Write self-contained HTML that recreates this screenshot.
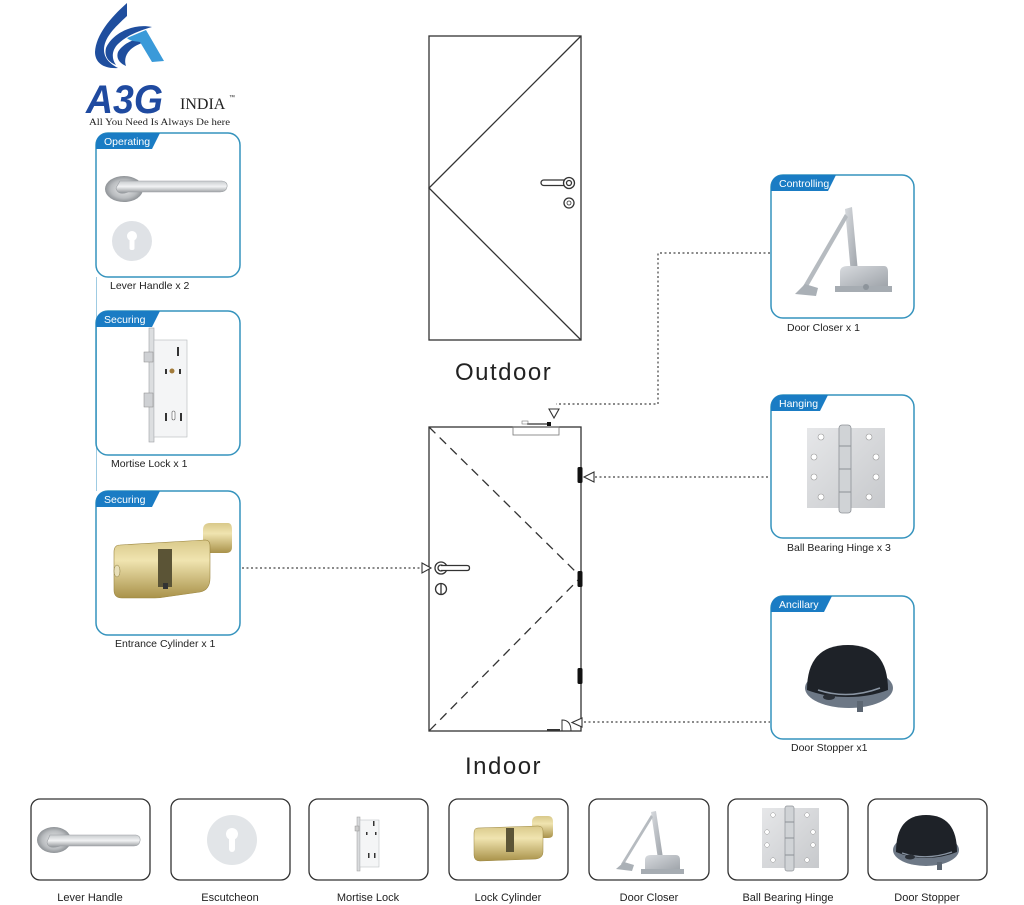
<!DOCTYPE html>
<html><head><meta charset="utf-8"><style>
html,body{margin:0;padding:0;background:#fff;}
svg{display:block;}
text{font-family:"Liberation Sans",sans-serif;}
</style></head><body>
<svg width="1024" height="905" viewBox="0 0 1024 905" xmlns="http://www.w3.org/2000/svg">
<defs>
<linearGradient id="steel" x1="0" y1="0" x2="0" y2="1">
<stop offset="0" stop-color="#c8cbce"/><stop offset="0.45" stop-color="#f2f3f4"/><stop offset="1" stop-color="#8e9296"/>
</linearGradient>
<radialGradient id="rose" cx="0.5" cy="0.5" r="0.5">
<stop offset="0" stop-color="#e8e9ea"/><stop offset="0.7" stop-color="#b9bcbf"/><stop offset="1" stop-color="#8f9397"/>
</radialGradient>
<linearGradient id="gold" x1="0" y1="0" x2="0" y2="1">
<stop offset="0" stop-color="#d9c98a"/><stop offset="0.35" stop-color="#f0e4b0"/><stop offset="1" stop-color="#a9924a"/>
</linearGradient>
<linearGradient id="plate" x1="0" y1="0" x2="1" y2="1">
<stop offset="0" stop-color="#e6e7e9"/><stop offset="1" stop-color="#c7c9cc"/>
</linearGradient>
<linearGradient id="alu" x1="0" y1="0" x2="1" y2="1">
<stop offset="0" stop-color="#d7dade"/><stop offset="1" stop-color="#9da2a8"/>
</linearGradient>
</defs>

<!-- LOGO -->
<g>
<path d="M127,3 C110,18 96,35 95,52 C95,63 104,69 118,68 C110,64 104,58 104,50 C104,38 114,28 127,16 Z" fill="#1f4e9e"/>
<path d="M152,27 C132,23 112,34 106,48 C104,56 108,62 116,65 C111,58 112,50 118,44 C126,36 138,31 152,27 Z" fill="#1f4e9e"/>
<path d="M150,38 C138,37 124,42 118,52 C116,58 119,63 126,66 C123,57 128,48 142,43 Z" fill="#1f4e9e"/>
<path d="M127,38 L146,30 L164,61 L152,62 L140,42 C134,41 130,41 127,38 Z" fill="#3a9ad9"/>
<text x="86" y="113" font-size="40" font-weight="bold" font-style="italic" fill="#1f4aa0" textLength="77" lengthAdjust="spacingAndGlyphs">A3G</text>
<text x="180" y="109" font-size="16" fill="#222" style="font-family:'Liberation Serif',serif">INDIA</text>
<text x="229" y="99" font-size="6" fill="#222">™</text>
<text x="89" y="125" font-size="9.5" fill="#222" style="font-family:'Liberation Serif',serif" textLength="141" lengthAdjust="spacingAndGlyphs">All You Need Is Always De here</text>
</g>

<!-- left connector line between cards -->
<line x1="96.5" y1="277" x2="96.5" y2="491" stroke="#9fcbe2" stroke-width="1"/>

<!-- CARD TEMPLATE: left cards -->
<g fill="none" stroke="#3593bd" stroke-width="1.5">
<rect x="96" y="133" width="144" height="144" rx="12"/>
<rect x="96" y="311" width="144" height="144" rx="12"/>
<rect x="96" y="491" width="144" height="144" rx="12"/>
<rect x="771" y="175" width="143" height="143" rx="12"/>
<rect x="771" y="395" width="143" height="143" rx="12"/>
<rect x="771" y="596" width="143" height="143" rx="12"/>
</g>
<!-- tabs -->
<g fill="#1a7cc4">
<path d="M96,149 L96,145 Q96,133 108,133 L160,133 Q156,141 152,149 Z"/>
<path d="M96,327 L96,323 Q96,311 108,311 L160,311 Q156,319 152,327 Z"/>
<path d="M96,507 L96,503 Q96,491 108,491 L160,491 Q156,499 152,507 Z"/>
<path d="M771,191 L771,187 Q771,175 783,175 L836,175 Q832,183 828,191 Z"/>
<path d="M771,411 L771,407 Q771,395 783,395 L828,395 Q824,403 820,411 Z"/>
<path d="M771,612 L771,608 Q771,596 783,596 L832,596 Q828,604 824,612 Z"/>
</g>
<g fill="#fff" font-size="10.5">
<text x="104" y="145">Operating</text>
<text x="104" y="323">Securing</text>
<text x="104" y="503">Securing</text>
<text x="779" y="187">Controlling</text>
<text x="779" y="407">Hanging</text>
<text x="779" y="608">Ancillary</text>
</g>
<g fill="#222" font-size="10.5">
<text x="110" y="289">Lever Handle x 2</text>
<text x="111" y="467">Mortise Lock x 1</text>
<text x="115" y="647">Entrance Cylinder x 1</text>
<text x="787" y="331">Door Closer x 1</text>
<text x="787" y="551">Ball Bearing Hinge x 3</text>
<text x="791" y="751">Door Stopper x1</text>
</g>

<!-- Card1: lever handle -->
<ellipse cx="124" cy="189" rx="19" ry="13" fill="url(#rose)"/>
<path d="M120,181 L222,181 Q228,182 227,187 Q226,192 220,192 L128,192 Q118,196 116,188 Z" fill="url(#steel)" stroke="#9a9ea2" stroke-width="0.6"/>
<circle cx="132" cy="241" r="20" fill="#dfe2e6"/>
<circle cx="132" cy="236" r="5" fill="#fff"/>
<rect x="129.5" y="236" width="5" height="14" rx="2" fill="#fff"/>

<!-- Card2: mortise lock -->
<rect x="149" y="328" width="5" height="114" fill="#dcdee0" stroke="#9da1a5" stroke-width="0.6"/>
<rect x="154" y="340" width="33" height="97" fill="#f4f5f6" stroke="#b5b8bb" stroke-width="0.6"/>
<rect x="144" y="352" width="9" height="10" fill="#cfd1d4" stroke="#888" stroke-width="0.5"/>
<rect x="144" y="393" width="9" height="14" fill="#cfd1d4" stroke="#888" stroke-width="0.5"/>
<rect x="177" y="347" width="2" height="9" fill="#333"/>
<circle cx="172" cy="371" r="2.5" fill="#a27b3a"/>
<rect x="165" y="369" width="2" height="5" fill="#333"/><rect x="179" y="369" width="2" height="5" fill="#333"/>
<rect x="172" y="411" width="3" height="9" rx="1.5" fill="#fff" stroke="#555" stroke-width="0.6"/>
<rect x="165" y="413" width="2" height="8" fill="#333"/><rect x="180" y="413" width="2" height="8" fill="#333"/>

<!-- Card3: cylinder -->
<path d="M203,530 Q203,523 210,523 L228,523 Q232,523 232,530 L232,547 Q232,553 226,553 L210,553 Q203,553 203,547 Z" fill="url(#gold)"/>
<path d="M120,545 L205,540 Q210,540 210,546 L210,578 Q210,590 200,592 L165,597 Q160,598 155,598 L122,598 Q114,598 114,590 L114,552 Q114,545 120,545 Z" fill="url(#gold)" stroke="#9b8640" stroke-width="0.6"/>
<rect x="158" y="549" width="14" height="38" fill="#5b5436"/>
<rect x="163" y="583" width="5" height="6" fill="#333"/>
<ellipse cx="117" cy="571" rx="3" ry="6" fill="#e8dfb8" stroke="#8a7a3e" stroke-width="0.5"/>

<!-- Door closer card -->
<path d="M845,209 L852,207 L858,272 L851,274 Z" fill="url(#alu)"/>
<path d="M845,214 L848,217 L806,290 L802,288 Z" fill="#b6bbc0"/>
<path d="M795,294 L805,284 L818,288 L816,296 Z" fill="#aab0b6"/>
<path d="M840,272 Q840,266 848,266 L884,266 Q888,266 888,272 L888,288 L840,288 Z" fill="url(#alu)"/>
<rect x="835" y="286" width="57" height="6" fill="#a6acb2"/>
<circle cx="866" cy="287" r="3" fill="#8d949b"/>

<!-- Hinge card -->
<rect x="807" y="428" width="78" height="80" fill="url(#plate)"/>
<rect x="839" y="425" width="12" height="88" rx="3" fill="#d0d3d6" stroke="#8d9196" stroke-width="0.8"/>
<line x1="839" y1="446" x2="851" y2="446" stroke="#8d9196"/>
<line x1="839" y1="469" x2="851" y2="469" stroke="#8d9196"/>
<line x1="839" y1="492" x2="851" y2="492" stroke="#8d9196"/>
<g fill="#fff" stroke="#999" stroke-width="0.6">
<circle cx="821" cy="437" r="3"/><circle cx="814" cy="457" r="3"/><circle cx="814" cy="477" r="3"/><circle cx="821" cy="497" r="3"/>
<circle cx="869" cy="437" r="3"/><circle cx="876" cy="457" r="3"/><circle cx="876" cy="477" r="3"/><circle cx="869" cy="497" r="3"/>
</g>

<!-- Stopper card -->
<ellipse cx="849" cy="688" rx="44" ry="20" fill="#6d7886"/>
<path d="M807,690 Q807,645 848,645 Q888,645 888,690 Q870,697 848,697 Q825,697 807,690 Z" fill="#1e2228"/>
<path d="M818,690 Q848,700 880,688" stroke="#8a95a3" stroke-width="1.5" fill="none"/>
<ellipse cx="829" cy="697" rx="6" ry="3" fill="#2a2f36"/>
<rect x="857" y="701" width="6" height="11" fill="#5c6672"/>

<!-- OUTDOOR DOOR -->
<g stroke="#333" stroke-width="1.3" fill="none">
<rect x="429" y="36" width="152" height="304"/>
<polyline points="581,36 429,188 581,340"/>
<rect x="541" y="180" width="30" height="5.5" rx="2.75" fill="#fff"/>
<circle cx="569" cy="183" r="5.5" fill="#fff"/>
<circle cx="569" cy="183" r="2.5"/>
<circle cx="569" cy="203" r="5"/>
<circle cx="569" cy="203" r="2" stroke-width="0.8"/>
</g>
<text x="455" y="380" font-size="24" fill="#222" letter-spacing="1.5">Outdoor</text>

<!-- INDOOR DOOR -->
<g stroke="#333" stroke-width="1.3" fill="none">
<rect x="429" y="427" width="152" height="304"/>
<polyline points="429,427 581,577 429,731" stroke-dasharray="9,6"/>
<rect x="513" y="427" width="46" height="8" stroke-width="0.8" stroke="#777"/>
<line x1="527" y1="424" x2="550" y2="424" stroke-width="1.2"/>
<rect x="522" y="421" width="6" height="3" stroke-width="0.6" stroke="#777"/>
<circle cx="441" cy="568" r="6"/>
<circle cx="441" cy="568" r="3"/>
<path d="M441,565.5 L467,565.5 Q469.5,565.5 469.5,568 Q469.5,570.5 467,570.5 L441,570.5" fill="#fff"/>
<circle cx="441" cy="589" r="5.5"/>
<line x1="441" y1="583.5" x2="441" y2="594.5"/>
<path d="M551,731 L562,731 L562,720 Q571,720 571,731" stroke-width="1"/>
<line x1="547" y1="730" x2="560" y2="730" stroke-width="2"/>
</g>
<g fill="#111">
<rect x="577.5" y="467" width="5" height="16" rx="1.5"/>
<rect x="577.5" y="571" width="5" height="16" rx="1.5"/>
<rect x="577.5" y="668" width="5" height="16" rx="1.5"/>
<rect x="547" y="422" width="4" height="4"/>
</g>
<text x="465" y="774" font-size="24" fill="#222" letter-spacing="1.5">Indoor</text>

<!-- CONNECTORS -->
<g stroke="#444" stroke-width="1.2" fill="none" stroke-dasharray="2,2.5">
<line x1="242" y1="568" x2="421" y2="568"/>
<polyline points="770,253 658,253 658,404 556,404"/>
<line x1="595" y1="477" x2="770" y2="477"/>
<line x1="584" y1="722" x2="770" y2="722"/>
</g>
<g stroke="#333" stroke-width="1.1" fill="#fff">
<polygon points="422,563 431,568 422,573"/>
<polygon points="549,409 559,409 554,418"/>
<polygon points="594,472 584,477 594,482"/>
<polygon points="582,718 572,722.5 582,727"/>
</g>

<!-- BOTTOM ROW -->
<g fill="none" stroke="#333" stroke-width="1.3">
<rect x="31" y="799" width="119" height="81" rx="9"/>
<rect x="171" y="799" width="119" height="81" rx="9"/>
<rect x="309" y="799" width="119" height="81" rx="9"/>
<rect x="449" y="799" width="119" height="81" rx="9"/>
<rect x="589" y="799" width="120" height="81" rx="9"/>
<rect x="728" y="799" width="120" height="81" rx="9"/>
<rect x="868" y="799" width="119" height="81" rx="9"/>
</g>
<!-- b1 lever -->
<ellipse cx="54" cy="840" rx="17" ry="13" fill="url(#rose)"/>
<path d="M50,835 L136,835 Q141,836 140,841 Q139,846 134,846 L60,846 Q48,850 47,842 Z" fill="url(#steel)" stroke="#9a9ea2" stroke-width="0.6"/>
<!-- b2 escutcheon -->
<circle cx="232" cy="840" r="25" fill="#e2e5e8"/>
<circle cx="232" cy="834" r="6" fill="#fff"/>
<rect x="229" y="834" width="6" height="18" rx="3" fill="#fff"/>
<!-- b3 mortise -->
<rect x="357" y="817" width="3" height="54" fill="#d9dbdd" stroke="#999" stroke-width="0.5"/>
<rect x="360" y="820" width="19" height="47" fill="#f4f5f6" stroke="#b5b8bb" stroke-width="0.5"/>
<rect x="355" y="826" width="4" height="5" fill="#ccc" stroke="#888" stroke-width="0.4"/>
<rect x="373" y="821" width="1.5" height="5" fill="#333"/>
<rect x="366" y="832" width="1.5" height="3" fill="#333"/><rect x="375" y="832" width="1.5" height="3" fill="#333"/>
<rect x="368" y="853" width="1.5" height="5" fill="#333"/><rect x="374" y="853" width="1.5" height="5" fill="#333"/>
<!-- b4 cylinder -->
<path d="M532,822 Q532,816 538,816 L548,816 Q553,816 553,822 L553,834 Q553,838 548,838 L538,838 Q532,838 532,834 Z" fill="url(#gold)"/>
<path d="M478,828 L538,826 Q543,826 543,831 L543,852 Q543,858 536,859 L480,861 Q474,861 474,855 L474,833 Q474,828 478,828 Z" fill="url(#gold)" stroke="#9b8640" stroke-width="0.5"/>
<rect x="506" y="828" width="8" height="24" fill="#5b5436"/>
<!-- b5 door closer -->
<path d="M651,812 L656,811 L663,858 L658,859 Z" fill="url(#alu)"/>
<path d="M651,815 L653,817 L623,866 L621,864 Z" fill="#b6bbc0"/>
<path d="M616,869 L624,862 L634,865 L632,871 Z" fill="#aab0b6"/>
<path d="M645,860 Q645,855 651,855 L676,855 Q680,855 680,860 L680,871 L645,871 Z" fill="url(#alu)"/>
<rect x="641" y="869" width="43" height="5" fill="#a6acb2"/>
<!-- b6 hinge -->
<rect x="762" y="808" width="57" height="60" fill="url(#plate)"/>
<rect x="785" y="806" width="9" height="65" rx="2" fill="#d0d3d6" stroke="#8d9196" stroke-width="0.7"/>
<line x1="785" y1="822" x2="794" y2="822" stroke="#8d9196"/>
<line x1="785" y1="838" x2="794" y2="838" stroke="#8d9196"/>
<line x1="785" y1="855" x2="794" y2="855" stroke="#8d9196"/>
<g fill="#fff" stroke="#999" stroke-width="0.5">
<circle cx="773" cy="815" r="2.3"/><circle cx="767" cy="832" r="2.3"/><circle cx="767" cy="845" r="2.3"/><circle cx="773" cy="860" r="2.3"/>
<circle cx="807" cy="815" r="2.3"/><circle cx="813" cy="832" r="2.3"/><circle cx="813" cy="845" r="2.3"/><circle cx="807" cy="860" r="2.3"/>
</g>
<!-- b7 stopper -->
<ellipse cx="926" cy="850" rx="33" ry="16" fill="#6d7886"/>
<path d="M896,852 Q896,815 926,815 Q957,815 957,852 Q942,858 926,858 Q910,858 896,852 Z" fill="#1e2228"/>
<path d="M902,853 Q926,861 952,852" stroke="#8a95a3" stroke-width="1.2" fill="none"/>
<ellipse cx="910" cy="857" rx="5" ry="2.5" fill="#2a2f36"/>
<rect x="937" y="862" width="5" height="8" fill="#5c6672"/>

<g fill="#222" font-size="11" text-anchor="middle">
<text x="90" y="901">Lever Handle</text>
<text x="230" y="901">Escutcheon</text>
<text x="368" y="901">Mortise Lock</text>
<text x="508" y="901">Lock Cylinder</text>
<text x="649" y="901">Door Closer</text>
<text x="788" y="901">Ball Bearing Hinge</text>
<text x="927" y="901">Door Stopper</text>
</g>
</svg>
</body></html>
